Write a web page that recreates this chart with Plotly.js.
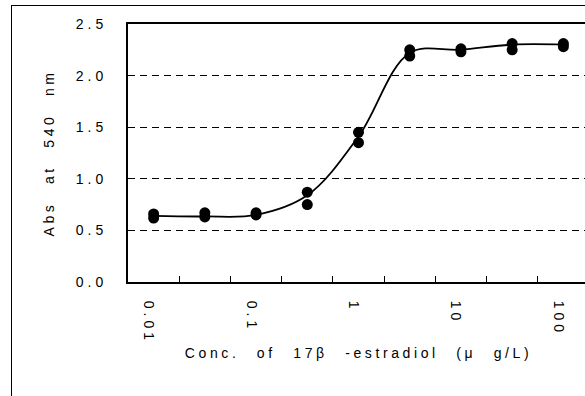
<!DOCTYPE html>
<html>
<head>
<meta charset="utf-8">
<script src="https://cdn.plot.ly/plotly-3.0.1.min.js"></script>
<style>
  html, body { margin: 0; padding: 0; overflow: hidden; background: #fff; }
  #wrap { position: relative; width: 585px; height: 396px; overflow: hidden; }
  #chart { position: absolute; left: 0; top: 0; }
  #frame { position: absolute; left: 11px; top: 5px; width: 700px; height: 500px;
           border: 1.5px solid #000; pointer-events: none; box-sizing: border-box; }
  #chart .ytick text { letter-spacing: 4px; }
  #chart .xtick text { letter-spacing: 4px; }
  #chart .g-xtitle text { letter-spacing: 3.6px; word-spacing: 10px; }
  #chart .g-ytitle text { letter-spacing: 3.6px; word-spacing: 10px; }
</style>
</head>
<body>
<div id="wrap">
  <div id="chart"></div>
  <div id="frame"></div>
</div>
<script>
// Concentrations of 17β-estradiol (µg/L), equally spaced categories
const concentrations = ['0.01', '0.03', '0.1', '0.3', '1', '3', '10', '30', '100'];
const xTickLabels   = ['0.01', '', '0.1', '', '1', '', '10', '', '100'];
// Replicate absorbance readings at 540 nm
const replicate1 = [0.66, 0.67, 0.67, 0.87, 1.45, 2.25, 2.26, 2.31, 2.31];
const replicate2 = [0.62, 0.63, 0.65, 0.75, 1.35, 2.19, 2.23, 2.25, 2.28];
// Smoothed response curve
const curve      = [0.64, 0.635, 0.65, 0.84, 1.41, 2.22, 2.25, 2.30, 2.30];
// Y axis ticks
const yTickVals   = [0, 0.5, 1.0, 1.5, 2.0, 2.5];
const yTickLabels = ['0.0', '0.5', '1.0', '1.5', '2.0', '2.5'];

// tick marks sit on the boundaries between categories
const boundaries = concentrations.slice(1).map((c, i) => i + 0.5);

const FONT = 'Liberation Sans, Arial, sans-serif';

const traces = [
  {
    x: concentrations, y: curve, type: 'scatter', mode: 'lines',
    line: { color: '#000', width: 1.8, shape: 'spline', smoothing: 1 },
    hoverinfo: 'skip', showlegend: false
  },
  {
    x: concentrations.concat(concentrations),
    y: replicate1.concat(replicate2),
    type: 'scatter', mode: 'markers',
    marker: { color: '#000', size: 11, symbol: 'circle' },
    showlegend: false
  }
];

const layout = {
  width: 600, height: 410,
  margin: { l: 128, r: 11, t: 24, b: 128, pad: 0 },
  paper_bgcolor: 'rgba(0,0,0,0)', plot_bgcolor: '#fff',
  font: { family: FONT, size: 14, color: '#000' },
  showlegend: false,
  xaxis: {
    type: 'category',
    categoryorder: 'array', categoryarray: concentrations,
    range: [-0.5, 8.5],
    tickmode: 'array', tickvals: concentrations, ticktext: xTickLabels,
    ticks: '', tickangle: 90, ticklabelshift: -5, ticklabelstandoff: 14,
    showgrid: false, zeroline: false,
    showline: true, linecolor: '#000', linewidth: 2, mirror: true,
    tickfont: { family: FONT, size: 14, color: '#000' },
    title: { text: 'Conc. of 17β -estradiol (μ g/L)', font: { family: FONT, size: 14, color: '#000' }, standoff: 21 }
  },
  xaxis2: {
    overlaying: 'x', side: 'bottom', anchor: 'y',
    range: [-0.5, 8.5],
    tickmode: 'array', tickvals: boundaries, showticklabels: false,
    ticks: 'inside', ticklen: 6, tickwidth: 1, tickcolor: '#000',
    showgrid: false, zeroline: false, showline: false
  },
  yaxis: {
    range: [0, 2.5],
    tickmode: 'array', tickvals: yTickVals, ticktext: yTickLabels,
    ticks: '', ticklabelstandoff: 16,
    showgrid: true, gridcolor: '#000', gridwidth: 1, griddash: '7px,5px',
    zeroline: false,
    showline: true, linecolor: '#000', linewidth: 2, mirror: true,
    tickfont: { family: FONT, size: 14, color: '#000' },
    title: { text: 'Abs at 540 nm', font: { family: FONT, size: 14, color: '#000' }, standoff: 30 }
  }
};

// invisible helper trace so the boundary tick axis is drawn
traces.push({ x: [boundaries[0]], y: [null], xaxis: 'x2', yaxis: 'y', type: 'scatter', mode: 'markers',
              hoverinfo: 'skip', showlegend: false });

Plotly.newPlot('chart', traces, layout, { staticPlot: true, displayModeBar: false });
</script>
</body>
</html>
